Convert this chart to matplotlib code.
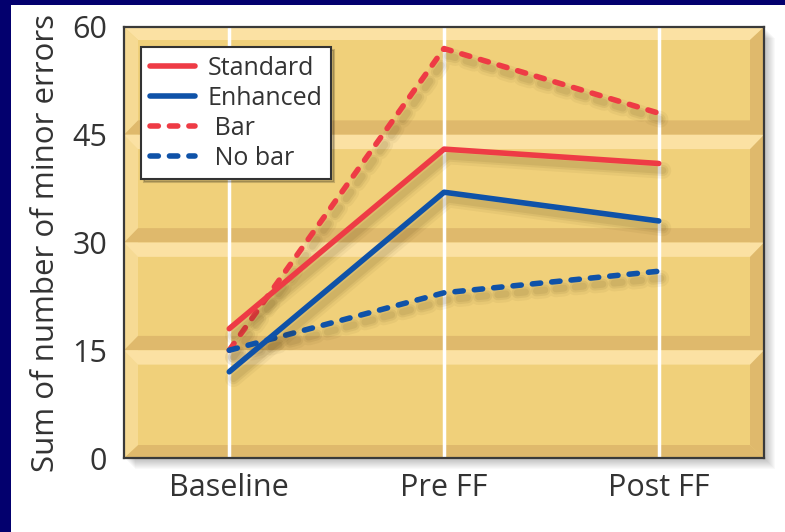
import matplotlib
matplotlib.use("Agg")
import matplotlib.pyplot as plt
import matplotlib.patheffects as pe
import matplotlib.transforms as mtransforms
from matplotlib.lines import Line2D
from matplotlib.patches import Rectangle, Polygon

# minor errors summed over each phase
phases = ["Baseline", "Pre FF", "Post FF"]
standard = [18, 43, 41]
enhanced = [12, 37, 33]
bar = [15, 57, 48]
no_bar = [15, 23, 26]
y_ticks = [0, 15, 30, 45, 60]
series_labels = ["Standard", "Enhanced", " Bar", " No bar"]

RED = "#ee3b45"
BLUE = "#0f52a8"
GOLD = "#f0d07a"
GOLD_DARK = "#dfb96c"
GOLD_LIGHT = "#fbe1a3"
NAVY = "#03006e"
TEXT = "#333333"

plt.rcParams["font.family"] = ["Open Sans", "DejaVu Sans"]

W, H = 785, 532
fig = plt.figure(figsize=(W / 100, H / 100), dpi=100)
fig.patch.set_facecolor(NAVY)
fig.add_artist(Rectangle((11 / W, 0), 1, (H - 5) / H, transform=fig.transFigure,
                         facecolor="white", edgecolor="none", zorder=-5))

# plot box in pixels (left, right, bottom, top measured from the top edge)
px0, px1, py0, py1 = 124, 764, 458, 27
box = [px0 / W, 1 - py0 / H, (px1 - px0) / W, (py0 - py1) / H]

# soft drop shadow behind the plot box
for i in range(1, 12):
    fig.add_artist(Rectangle((box[0] + i / W, box[1] - i / H), box[2], box[3],
                             transform=fig.transFigure, facecolor="black",
                             edgecolor="none", alpha=0.022, zorder=-1))

ax = fig.add_axes(box)
ax.set_facecolor(GOLD)
ax.set_xlim(-0.49, 2.49)
ax.set_ylim(0, 60)

# bevelled "chocolate bar" border
bx, by = 14 / 640, 13 / 431
bevels = [
    ([(0, 1), (1, 1), (1 - bx, 1 - by), (bx, 1 - by)], GOLD_LIGHT),
    ([(0, 0), (1, 0), (1 - bx, by), (bx, by)], GOLD_DARK),
    ([(0, 0), (bx, by), (bx, 1 - by), (0, 1)], "#f6da94"),
    ([(1, 0), (1, 1), (1 - bx, 1 - by), (1 - bx, by)], GOLD_DARK),
]
for pts, col in bevels:
    ax.add_patch(Polygon(pts, closed=True, transform=ax.transAxes,
                         facecolor=col, edgecolor="none", zorder=0.5))

# grooves at each inner tick: dark edge above, light edge below
band = mtransforms.blended_transform_factory(ax.transAxes, ax.transData)
for yv in y_ticks[1:-1]:
    ax.add_patch(Polygon([(0, yv), (1, yv), (1 - bx, yv + 2), (bx, yv + 2)],
                         transform=band, facecolor=GOLD_DARK, edgecolor="none", zorder=0.6))
    ax.add_patch(Polygon([(0, yv), (1, yv), (1 - bx, yv - 2), (bx, yv - 2)],
                         transform=band, facecolor=GOLD_LIGHT, edgecolor="none", zorder=0.6))

for i in range(len(phases)):
    ax.axvline(i, color="white", lw=2.5, zorder=1)

# blurred-looking shadow: a few wide, faint offset copies under each line
shadow = [pe.SimpleLineShadow(offset=(3, -5), shadow_color="#4a3408", alpha=a, linewidth=w)
          for w, a in ((12, 0.05), (8, 0.07), (5, 0.08))] + [pe.Normal()]
x = list(range(len(phases)))
dash = (0, (1.5, 2.0))
LW = 4.0
line_kw = dict(lw=LW, solid_capstyle="round", dash_capstyle="round",
               path_effects=shadow, zorder=3)
ax.plot(x, bar, color=RED, ls=dash, **line_kw)
ax.plot(x, no_bar, color=BLUE, ls=dash, **line_kw)
ax.plot(x, standard, color=RED, **line_kw)
ax.plot(x, enhanced, color=BLUE, **line_kw)

handles = [
    Line2D([], [], color=RED, lw=LW, solid_capstyle="round"),
    Line2D([], [], color=BLUE, lw=LW, solid_capstyle="round"),
    Line2D([], [], color=RED, lw=LW, ls=dash, dash_capstyle="round"),
    Line2D([], [], color=BLUE, lw=LW, ls=dash, dash_capstyle="round"),
]
leg = ax.legend(handles, series_labels, loc="upper left", bbox_to_anchor=(0.027, 0.954),
                fontsize=18, fancybox=False, framealpha=1, edgecolor="#333333",
                shadow={"color": "black", "alpha": 0.18}, handlelength=1.8,
                handletextpad=0.5, labelspacing=0.2, borderpad=0.35, borderaxespad=0)
leg.get_frame().set_linewidth(1.5)
for t in leg.get_texts():
    t.set_color(TEXT)
leg.set_zorder(5)

ax.set_xticks(x, phases)
ax.set_yticks(y_ticks)
ax.tick_params(length=0, labelsize=22, colors=TEXT)
ax.tick_params(axis="x", pad=11)
ax.tick_params(axis="y", pad=12)
ax.set_ylabel("Sum of number of minor errors", fontsize=22.5, color=TEXT, labelpad=8)

for s in ax.spines.values():
    s.set_color("#3a3a3a")
    s.set_linewidth(1.6)
    s.set_zorder(6)

fig.savefig("out.png", dpi=100)
